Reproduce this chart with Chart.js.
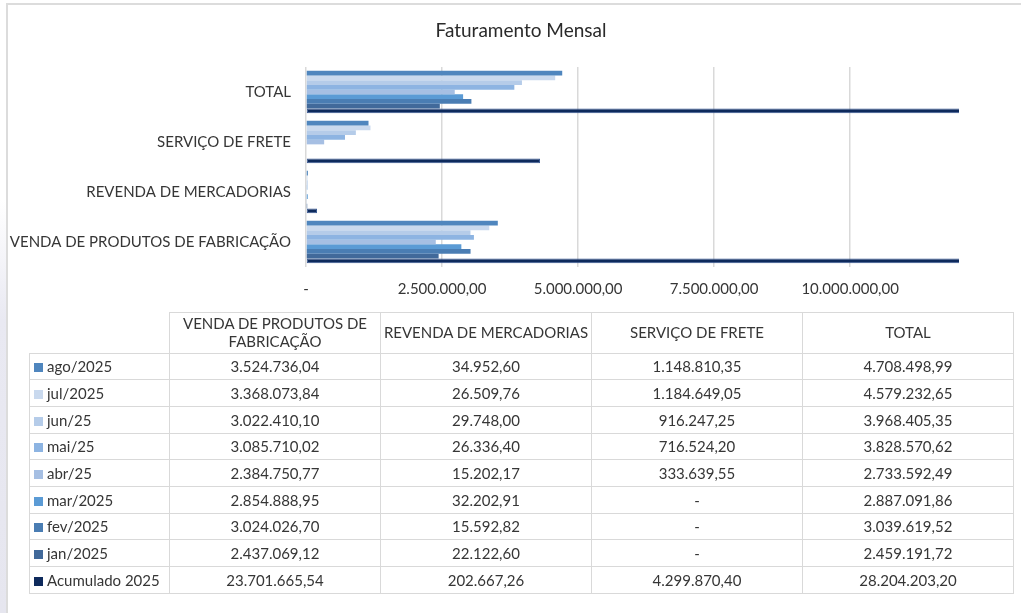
<!DOCTYPE html>
<html lang="pt-BR">
<head>
<meta charset="utf-8">
<script src="https://cdn.jsdelivr.net/npm/chart.js@4/dist/chart.umd.min.js"></script>
<style>
  html, body { margin: 0; padding: 0; background: #ffffff; }
  body { width: 1021px; height: 613px; overflow: hidden; position: relative; font-family: Lato, "Liberation Sans", sans-serif; }
  #side { position: absolute; left: 0; top: 0; width: 6px; height: 613px;
          background: linear-gradient(to bottom, #ffffff 0px, #ffffff 200px, #e9e9f2 320px, #e6e6ef 613px); }
  #frame { position: absolute; left: 6px; top: 3px; width: 1100px; height: 700px;
           border-left: 2px solid #dcdcdc; border-top: 2px solid #dcdcdc; box-sizing: border-box; }
  #wrap { position: absolute; left: 0; top: 0; width: 1021px; height: 613px; }
  #tbl { position: absolute; left: 29px; top: 312px; border-collapse: collapse; table-layout: fixed;
         font-family: Lato, "Liberation Sans", sans-serif; font-size: 15px; color: #363636; }
  #tbl td { border: 1.5px solid #d9d9d9; text-align: center; padding: 0 2px; height: 25.7px; white-space: nowrap; }
  #tbl tr.head td { height: 39.5px; white-space: normal; line-height: 17.5px; }
  #tbl td.corner { border-top: none; border-left: none; }
  #tbl td.lab { text-align: left; padding-left: 4px; }
  .key { display: inline-block; width: 9px; height: 9px; margin-right: 4px; vertical-align: 0px; }
</style>
</head>
<body>
<div id="side"></div>
<div id="frame"></div>
<div id="wrap"><canvas id="c" width="1021" height="613"></canvas></div>
<table id="tbl"></table>
<script>
// ---- data (table order) ----
const categories = ['VENDA DE PRODUTOS DE FABRICAÇÃO', 'REVENDA DE MERCADORIAS', 'SERVIÇO DE FRETE', 'TOTAL'];
const seriesNames = ['ago/2025', 'jul/2025', 'jun/25', 'mai/25', 'abr/25', 'mar/2025', 'fev/2025', 'jan/2025', 'Acumulado 2025'];
const ago2025 = [3524736.04, 34952.60, 1148810.35, 4708498.99];
const jul2025 = [3368073.84, 26509.76, 1184649.05, 4579232.65];
const jun25   = [3022410.10, 29748.00, 916247.25, 3968405.35];
const mai25   = [3085710.02, 26336.40, 716524.20, 3828570.62];
const abr25   = [2384750.77, 15202.17, 333639.55, 2733592.49];
const mar2025 = [2854888.95, 32202.91, null, 2887091.86];
const fev2025 = [3024026.70, 15592.82, null, 3039619.52];
const jan2025 = [2437069.12, 22122.60, null, 2459191.72];
const acum2025 = [23701665.54, 202667.26, 4299870.40, 28204203.20];
const xTickValues = [0, 2500000, 5000000, 7500000, 10000000];
const xMax = 12000000;
const seriesColors = ['#4f86be', '#c9d9ee', '#b5cce9', '#8db4e2', '#a6bfe3', '#5b9bd5', '#4a7db3', '#41699a', '#0e2a5c'];
const seriesBorders = [null, null, null, null, null, null, null, null, '#3a5a94'];

const seriesValues = [ago2025, jul2025, jun25, mai25, abr25, mar2025, fev2025, jan2025, acum2025];

function fmt(v) {
  if (v === null || v === undefined || v === 0) return '-';
  const neg = v < 0; v = Math.abs(v);
  const fixed = v.toFixed(2);
  let [ip, dp] = fixed.split('.');
  ip = ip.replace(/\B(?=(\d{3})+(?!\d))/g, '.');
  return (neg ? '-' : '') + ip + ',' + dp;
}

// chart categories appear top-to-bottom reversed
const chartLabels = categories.slice().reverse();

const datasets = seriesNames.map((name, i) => ({
  label: name,
  data: seriesValues[i].slice().reverse(),
  backgroundColor: seriesColors[i],
  borderColor: seriesBorders[i] || seriesColors[i],
  borderWidth: seriesBorders[i] ? 1 : 0,
  borderSkipped: false,
  categoryPercentage: 0.85,
  barPercentage: 1.0,
  clip: 0
}));

const FONT = 'Lato, "Liberation Sans", sans-serif';

new Chart(document.getElementById('c'), {
  type: 'bar',
  data: { labels: chartLabels, datasets: datasets },
  options: {
    indexAxis: 'y',
    responsive: false,
    animation: false,
    devicePixelRatio: 1,
    layout: { padding: { left: 0, right: -21, top: 0, bottom: 306 } },
    plugins: {
      legend: { display: false },
      tooltip: { enabled: false },
      title: {
        display: true,
        text: 'Faturamento Mensal',
        color: '#2a2a2a',
        font: { family: FONT, size: 19, weight: 'normal' },
        padding: { top: 19.6, bottom: 24.6 }
      }
    },
    scales: {
      x: {
        type: 'linear',
        min: 0,
        max: xMax,
        afterBuildTicks: (scale) => { scale.ticks = xTickValues.map(v => ({ value: v })); },
        afterFit: (scale) => { scale.height = 40; },
        ticks: {
          color: '#363636',
          font: { family: FONT, size: 15 },
          padding: 13,
          maxRotation: 0,
          autoSkip: false,
          callback: (v) => fmt(v)
        },
        grid: { color: '#d9d9d9', lineWidth: 1.5, drawTicks: false },
        border: { display: false }
      },
      y: {
        afterFit: (scale) => { scale.width = 306; },
        ticks: {
          color: '#363636',
          font: { family: FONT, size: 15 },
          padding: 15
        },
        grid: { display: false, drawTicks: false },
        border: { display: false }
      },
      yRightSpacer: {
        type: 'category',
        position: 'right',
        labels: chartLabels,
        afterFit: (scale) => { scale.width = 83; },
        ticks: { display: false },
        grid: { display: false, drawTicks: false },
        border: { display: false }
      }
    }
  }
});

// ---- data table ----
const tbl = document.getElementById('tbl');
const colW = [140, 211, 211, 211, 211];
const cg = document.createElement('colgroup');
colW.forEach(w => { const c = document.createElement('col'); c.style.width = w + 'px'; cg.appendChild(c); });
tbl.appendChild(cg);
const hr = document.createElement('tr'); hr.className = 'head';
const corner = document.createElement('td'); corner.className = 'corner'; hr.appendChild(corner);
categories.forEach(c => { const td = document.createElement('td'); td.textContent = c; hr.appendChild(td); });
tbl.appendChild(hr);
seriesNames.forEach((name, i) => {
  const tr = document.createElement('tr');
  const lab = document.createElement('td'); lab.className = 'lab';
  const key = document.createElement('span'); key.className = 'key'; key.style.background = seriesColors[i];
  lab.appendChild(key); lab.appendChild(document.createTextNode(name));
  tr.appendChild(lab);
  seriesValues[i].forEach(v => { const td = document.createElement('td'); td.textContent = fmt(v); tr.appendChild(td); });
  tbl.appendChild(tr);
});
</script>
</body>
</html>
